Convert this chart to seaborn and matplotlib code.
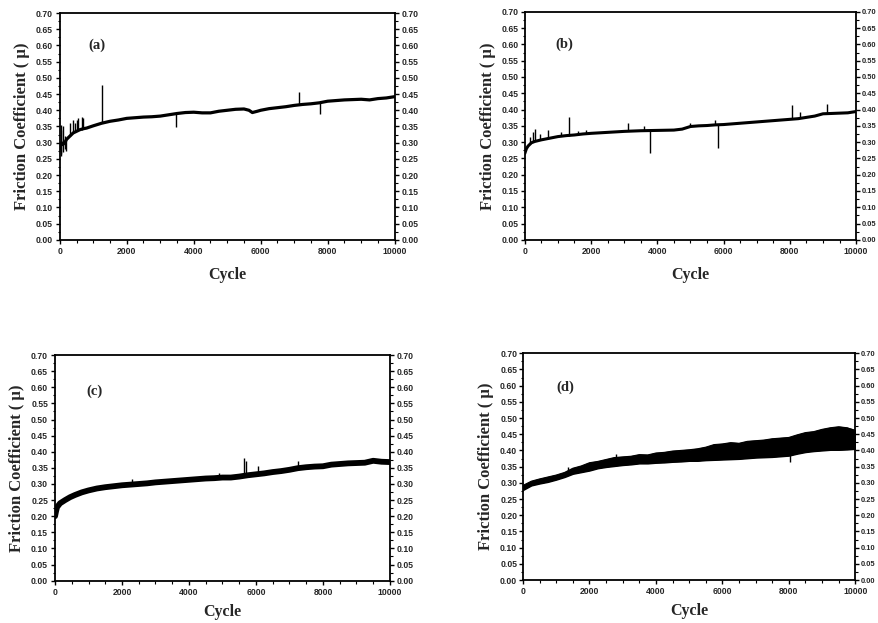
import numpy as np
import pandas as pd
import matplotlib
matplotlib.use("Agg")
import matplotlib.pyplot as plt
from matplotlib.ticker import MultipleLocator, FormatStrFormatter
import seaborn as sns

sns.set_theme(style="white")
plt.rcParams['font.family'] = ['Liberation Serif', 'DejaVu Serif']

# ---------------- data ----------------
cycle_a = [0, 50, 100, 150, 200, 300, 400, 500, 600, 700, 800, 1000, 1250, 1500, 1750,
           2000, 2250, 2500, 2750, 3000, 3250, 3500, 3750, 4000, 4250, 4500, 4750, 5000,
           5250, 5500, 5650, 5750, 5900, 6000, 6250, 6500, 6750, 7000, 7250, 7500, 7750,
           8000, 8250, 8500, 8750, 9000, 9250, 9500, 9750, 10000]
mu_a = [0.280, 0.300, 0.295, 0.300, 0.310, 0.320, 0.330, 0.335, 0.340, 0.343, 0.345, 0.352,
        0.360, 0.366, 0.370, 0.375, 0.377, 0.379, 0.380, 0.382, 0.386, 0.390, 0.393, 0.394,
        0.392, 0.392, 0.397, 0.400, 0.403, 0.404, 0.400, 0.393, 0.397, 0.400, 0.405, 0.408,
        0.411, 0.415, 0.418, 0.420, 0.423, 0.428, 0.430, 0.432, 0.433, 0.434, 0.432, 0.436,
        0.438, 0.442]
spike_a_x = [30, 50, 100, 150, 200, 300, 400, 450, 500, 550, 650, 700, 1250, 3480, 7130, 7760]
spike_a_lo = [0.260, 0.265, 0.270, 0.280, 0.275, 0.320, 0.330, 0.335, 0.335, 0.340, 0.340, 0.343, 0.360, 0.349, 0.417, 0.390]
spike_a_hi = [0.340, 0.355, 0.350, 0.320, 0.315, 0.360, 0.370, 0.360, 0.370, 0.375, 0.380, 0.375, 0.478, 0.390, 0.456, 0.424]

cycle_b = [0, 50, 100, 200, 300, 500, 750, 1000, 1250, 1500, 1750, 2000, 2500, 3000, 3500,
           4000, 4500, 4750, 5000, 5250, 5500, 5750, 6000, 6500, 7000, 7500, 8000, 8250,
           8500, 8750, 9000, 9250, 9500, 9750, 10000]
mu_b = [0.265, 0.280, 0.288, 0.298, 0.302, 0.307, 0.312, 0.317, 0.320, 0.322, 0.325, 0.327,
        0.330, 0.333, 0.335, 0.336, 0.337, 0.340, 0.348, 0.350, 0.351, 0.353, 0.354, 0.358,
        0.362, 0.366, 0.370, 0.372, 0.376, 0.380, 0.387, 0.388, 0.389, 0.390, 0.394]
spike_b_x = [150, 250, 300, 450, 700, 1100, 1320, 1600, 1850, 3120, 3600, 3780, 5000, 5750, 5820, 8050, 8300, 9130]
spike_b_lo = [0.295, 0.300, 0.302, 0.306, 0.311, 0.318, 0.320, 0.322, 0.325, 0.333, 0.335, 0.267, 0.345, 0.353, 0.282, 0.370, 0.373, 0.387]
spike_b_hi = [0.315, 0.330, 0.340, 0.325, 0.338, 0.330, 0.377, 0.333, 0.336, 0.359, 0.350, 0.336, 0.360, 0.367, 0.353, 0.415, 0.392, 0.417]

cycle_c = [0, 30, 60, 150, 300, 450, 600, 800, 1000, 1250, 1500, 1750, 2000, 2250, 2500,
           2750, 3000, 3250, 3500, 3750, 4000, 4250, 4500, 4750, 5000, 5250, 5500, 5750,
           6000, 6250, 6500, 6750, 7000, 7250, 7500, 7750, 8000, 8250, 8500, 8750, 9000,
           9250, 9500, 9750, 10000]
mu_c = [0.200, 0.215, 0.228, 0.240, 0.250, 0.259, 0.266, 0.274, 0.280, 0.286, 0.290, 0.293,
        0.296, 0.298, 0.300, 0.302, 0.305, 0.307, 0.309, 0.311, 0.313, 0.315, 0.317, 0.318,
        0.320, 0.320, 0.323, 0.327, 0.330, 0.333, 0.337, 0.340, 0.344, 0.349, 0.352, 0.354,
        0.355, 0.360, 0.362, 0.364, 0.365, 0.366, 0.372, 0.369, 0.368]
spike_c_x = [2300, 4900, 5650, 5700, 6050, 7250]
spike_c_lo = [0.298, 0.319, 0.324, 0.328, 0.330, 0.348]
spike_c_hi = [0.315, 0.335, 0.380, 0.372, 0.355, 0.370]

cycle_d = [0, 250, 500, 750, 1000, 1250, 1500, 1750, 2000, 2250, 2500, 2750, 3000, 3250,
           3500, 3750, 4000, 4250, 4500, 4750, 5000, 5250, 5500, 5750, 6000, 6250, 6500,
           6750, 7000, 7250, 7500, 7750, 8000, 8250, 8500, 8750, 9000, 9250, 9500, 9750, 10000]
mu_d_low = [0.278, 0.292, 0.298, 0.303, 0.310, 0.318, 0.328, 0.333, 0.338, 0.345, 0.349,
            0.352, 0.355, 0.357, 0.360, 0.360, 0.362, 0.363, 0.365, 0.366, 0.368, 0.368,
            0.370, 0.371, 0.372, 0.373, 0.374, 0.376, 0.378, 0.379, 0.380, 0.382, 0.384,
            0.390, 0.395, 0.398, 0.400, 0.402, 0.402, 0.403, 0.405]
mu_d_high = [0.292, 0.305, 0.312, 0.318, 0.324, 0.332, 0.345, 0.352, 0.362, 0.366, 0.372,
             0.378, 0.380, 0.382, 0.387, 0.386, 0.392, 0.394, 0.398, 0.400, 0.402, 0.405,
             0.410, 0.418, 0.420, 0.424, 0.422, 0.428, 0.430, 0.432, 0.436, 0.438, 0.440,
             0.448, 0.455, 0.458, 0.465, 0.470, 0.473, 0.470, 0.462]
spike_d_x = [1350, 2800, 5750, 8050]
spike_d_lo = [0.325, 0.355, 0.375, 0.365]
spike_d_hi = [0.350, 0.390, 0.420, 0.390]

panel_labels = ["(a)", "(b)", "(c)", "(d)"]
x_label = "Cycle"
y_label = "Friction Coefficient ( \u03bc)"
x_ticks = [0, 2000, 4000, 6000, 8000, 10000]

# ---------------- figure ----------------
fig = plt.figure(figsize=(8.79, 6.23), dpi=100)
positions = [
    [0.068, 0.615, 0.381, 0.364],
    [0.597, 0.615, 0.377, 0.366],
    [0.0626, 0.068, 0.381, 0.362],
    [0.595, 0.069, 0.378, 0.364],
]
label_pos = [(0.085, 0.86), (0.092, 0.86), (0.095, 0.84), (0.10, 0.85)]
xlabel_pad = [8, 8, 5, 5]
TICK_FS = 6.2
right_fs = [6.2, 5.4, 6.2, 5.4]
right_pad = [2, 1.2, 2, 1.2]

axes = [fig.add_axes(p) for p in positions]

line_sets = [
    (cycle_a, mu_a, spike_a_x, spike_a_lo, spike_a_hi, 2.3),
    (cycle_b, mu_b, spike_b_x, spike_b_lo, spike_b_hi, 2.2),
    (cycle_c, mu_c, spike_c_x, spike_c_lo, spike_c_hi, 4.2),
]

for i, ax in enumerate(axes):
    if i < 3:
        cx, cy, sx, slo, shi, lw = line_sets[i]
        df = pd.DataFrame({"Cycle": cx, "mu": cy})
        sns.lineplot(data=df, x="Cycle", y="mu", ax=ax, color="black", linewidth=lw)
        ax.vlines(sx, slo, shi, color="black", linewidth=1.0)
    else:
        df = pd.DataFrame({"Cycle": cycle_d, "low": mu_d_low, "high": mu_d_high})
        ax.fill_between(df["Cycle"], df["low"], df["high"], color="black", linewidth=1.0,
                        edgecolor="black")
        sns.lineplot(data=df, x="Cycle", y="high", ax=ax, color="black", linewidth=0.8)
        sns.lineplot(data=df, x="Cycle", y="low", ax=ax, color="black", linewidth=0.8)
        ax.vlines(spike_d_x, spike_d_lo, spike_d_hi, color="black", linewidth=1.0)

    ax.set_xlim(0, 10000)
    ax.set_ylim(0, 0.70)
    ax.set_xticks(x_ticks)
    ax.xaxis.set_minor_locator(MultipleLocator(500))
    ax.yaxis.set_major_locator(MultipleLocator(0.05))
    ax.yaxis.set_minor_locator(MultipleLocator(0.025))
    ax.yaxis.set_major_formatter(FormatStrFormatter('%.2f'))
    ax.tick_params(axis='both', which='major', direction='out', length=3, width=1,
                   color='black', pad=2, left=True, right=True, bottom=True,
                   labelleft=True, labelright=True, labelsize=TICK_FS)
    ax.tick_params(axis='y', which='major', right=True, length=3)
    ax.tick_params(axis='both', which='minor', direction='out', length=1.8, width=0.8,
                   color='black', left=True, right=True, bottom=True)
    for sp in ax.spines.values():
        sp.set_color('black')
        sp.set_linewidth(1.3)
        sp.set_visible(True)
    ax.set_xlabel(x_label, fontsize=11.5, fontweight='bold', family='Liberation Serif',
                  labelpad=xlabel_pad[i])
    ax.set_ylabel(y_label, fontsize=12, fontweight='bold', family=['Liberation Serif', 'DejaVu Serif'],
                  labelpad=4)
    ax.text(label_pos[i][0], label_pos[i][1], panel_labels[i], transform=ax.transAxes,
            fontsize=10.5, fontweight='bold', family='Liberation Serif', ha='left', va='center')
    ax.grid(False)
    ax.set_facecolor('white')

# bold sans tick labels on every side
for i, ax in enumerate(axes):
    for tick in ax.xaxis.get_major_ticks():
        tick.label1.set_family('Liberation Sans')
        tick.label1.set_fontweight('bold')
    for tick in ax.yaxis.get_major_ticks():
        for lab in (tick.label1, tick.label2):
            lab.set_family('Liberation Sans')
            lab.set_fontweight('bold')
        tick.label2.set_fontsize(right_fs[i])
        tick.set_pad(2)
    if right_pad[i] != 2:
        for tick in ax.yaxis.get_major_ticks():
            tick.label2.set_x(1.0)
    ax.yaxis.set_tick_params(which='major', pad=right_pad[i] if i in (1, 3) else 2)

fig.savefig("out.png", dpi=100, facecolor='white')
